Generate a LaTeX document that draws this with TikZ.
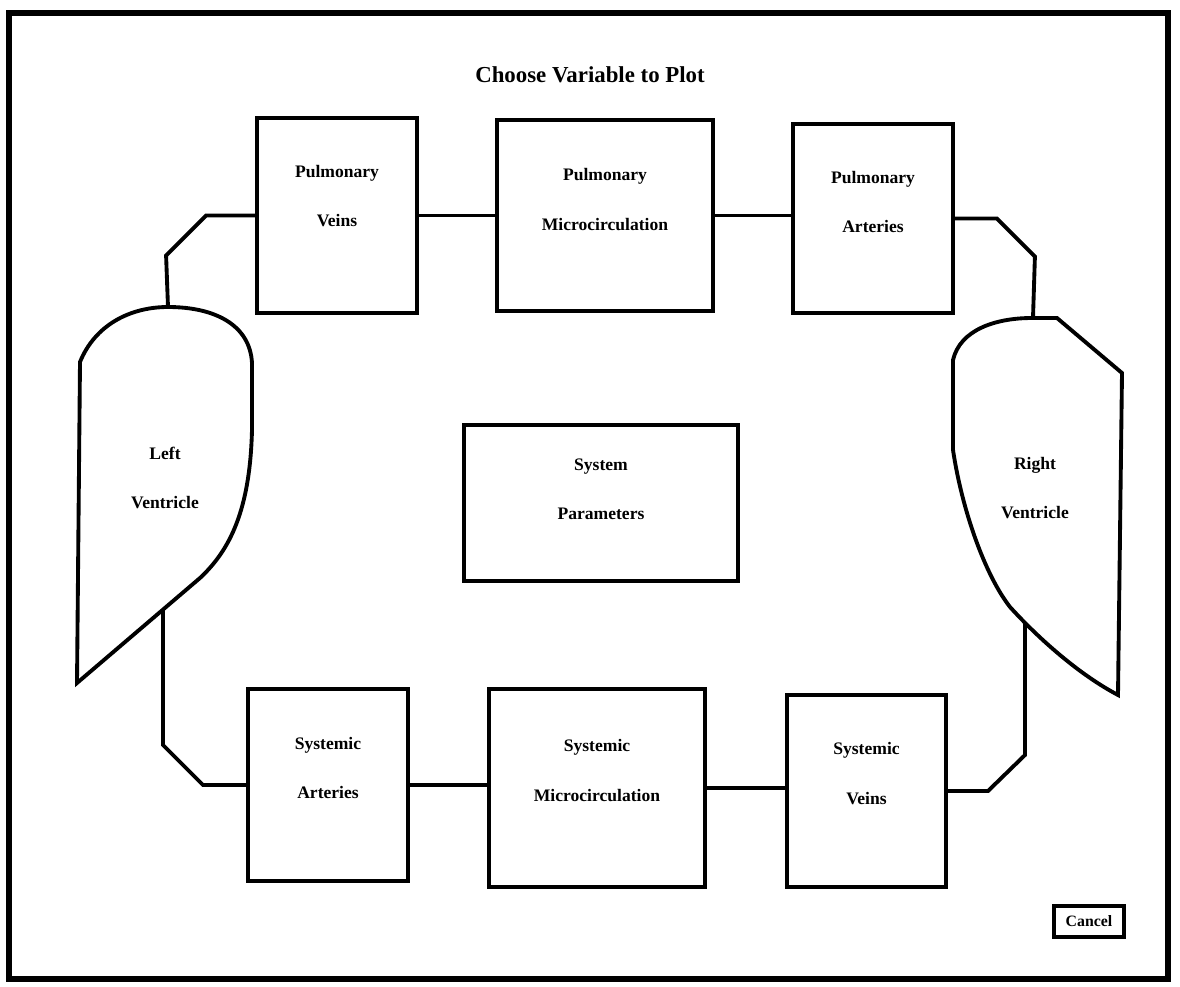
\documentclass[tikz,border=0pt]{standalone}
\usepackage{fontspec}
\setmainfont{Liberation Serif}
\usetikzlibrary{positioning}

\begin{document}
\begin{tikzpicture}[x=0.02cm,y=-0.02cm,
				box/.style={draw,line width=2.2pt,inner sep=0pt},
				lbl/.style={align=center,font=\fontsize{10}{28}\selectfont\bfseries},
				wire/.style={line width=2.2pt,line join=miter}]
				\useasboundingbox (0,0) rectangle (1180,987);
				\draw[line width=3.4pt] (9,13) rectangle (1168,979);
				\node[font=\fontsize{13}{15}\selectfont\bfseries] (title) at (590,75) {Choose Variable to Plot};
				% pulmonary side
				\node[box,minimum width=3.2cm,minimum height=3.9cm] (pv) at (337,215.5) {};
				\node[box,minimum width=4.32cm,minimum height=3.82cm] (pm) at (605,215.5) {};
				\node[box,minimum width=3.2cm,minimum height=3.78cm] (pa) at (873,218.5) {};
				\node[lbl] (pvtxt) at ([yshift=-1.6cm]pv.north) {Pulmonary\\Veins};
				\node[lbl] (pmtxt) at ([yshift=-1.63cm]pm.north) {Pulmonary\\Microcirculation};
				\node[lbl] (patxt) at ([yshift=-1.6cm]pa.north) {Pulmonary\\Arteries};
				% systemic side
				\node[box,minimum width=3.2cm,minimum height=3.84cm] (sa) at (328,785) {};
				\node[box,minimum width=4.32cm,minimum height=3.96cm] (sm) at (597,788) {};
				\node[box,minimum width=3.18cm,minimum height=3.84cm] (sv) at (866.5,791) {};
				\node[lbl] (satxt) at ([yshift=-1.62cm]sa.north) {Systemic\\Arteries};
				\node[lbl] (smtxt) at ([yshift=-1.67cm]sm.north) {Systemic\\Microcirculation};
				\node[lbl] (svtxt) at ([yshift=-1.61cm]sv.north) {Systemic\\Veins};
				% parameters
				\node[box,minimum width=5.48cm,minimum height=3.12cm] (sp) at (601,503) {};
				\node[lbl] (sptxt) at ([yshift=-1.33cm]sp.north) {System\\Parameters};
				% ventricles
				\draw[wire] (77,683) -- (80,362) .. controls (95,325) and (130,307) .. (168,307)
					.. controls (215,307) and (250,325) .. (252,363) -- (252,430)
					.. controls (250,510) and (230,550) .. (200,578) -- cycle;
				\node[lbl] (lvtxt) at (165,478) {Left\\Ventricle};
				\coordinate (lvtop) at (168,307);
				\coordinate (lvbot) at (163,610);
				\draw[wire] (953,360) .. controls (960,330) and (995,318) .. (1032,318) -- (1057,318)
					-- (1122,373) -- (1118,695) .. controls (1080,675) and (1040,640) .. (1010,607)
					.. controls (985,575) and (962,510) .. (953,450) -- cycle;
				\node[lbl] (rvtxt) at (1035,488) {Right\\Ventricle};
				\coordinate (rvtop) at (1033,318);
				\coordinate (rvbot) at (1025,623);
				% connectors
				\draw[wire] (pv.east) -- (pm.west);
				\draw[wire] (pm.east) -- (pm.east -| pa.west);
				\draw[wire] (sa.east) -- (sa.east -| sm.west);
				\draw[wire] (sm.east) -- (sm.east -| sv.west);
				\draw[wire] (pv.west) -- ++(-49,0) -- ++(-40,40) -- (lvtop);
				\draw[wire] (pa.east) -- ++(42,0) -- ++(38,38) -- (rvtop);
				\draw[wire] (lvbot) -- ++(0,135) -- ++(40,40) -- (sa.west);
				\draw[wire] (rvbot) -- ++(0,132) -- ++(-37,36) -- (sv.east);
				% cancel button
				\node[draw,line width=1.8pt,minimum width=1.4cm,minimum height=0.62cm,
					font=\fontsize{9}{11}\selectfont\bfseries] (cancel) at (1089,921.5) {Cancel};
			\end{tikzpicture}
\end{document}
